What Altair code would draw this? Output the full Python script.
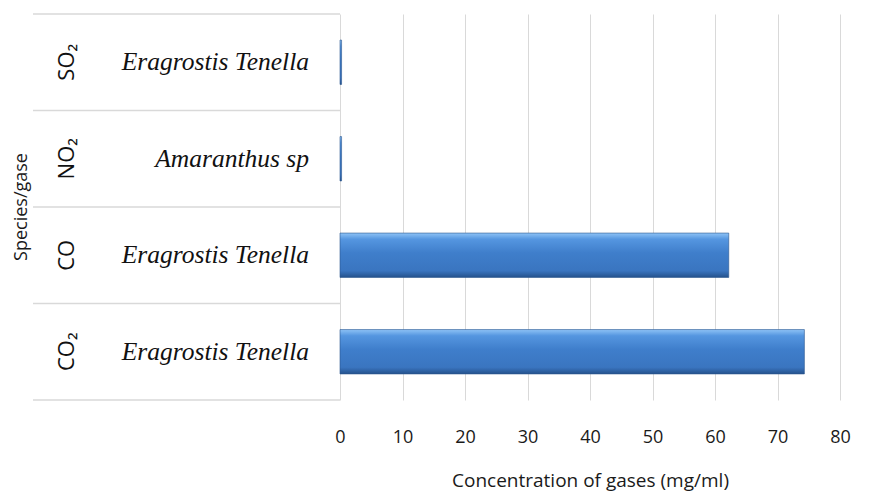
import altair as alt
import pandas as pd

# ---- data (top to bottom) ----
gases = ["SO₂", "NO₂", "CO", "CO₂"]
species = ["Eragrostis Tenella", "Amaranthus sp", "Eragrostis Tenella", "Eragrostis Tenella"]
values = [0.25, 0.25, 62.2, 74.3]
x_ticks = [0, 10, 20, 30, 40, 50, 60, 70, 80]
x_title = "Concentration of gases (mg/ml)"
y_title = "Species/gase"

df = pd.DataFrame({"gas": gases, "species": species, "value": values})
W, H = 500, 386
GRID = "#d9d9d9"

grad = alt.Gradient(
    gradient="linear", x1=0, y1=0, x2=0, y2=1,
    stops=[
        alt.GradientStop(color="#8ec3f6", offset=0.0),
        alt.GradientStop(color="#5596e0", offset=0.14),
        alt.GradientStop(color="#3f7ecb", offset=0.45),
        alt.GradientStop(color="#3a75c0", offset=0.85),
        alt.GradientStop(color="#25528c", offset=1.0),
    ],
)

x_enc = alt.X(
    "value:Q",
    scale=alt.Scale(domain=[0, 80], nice=False),
    axis=alt.Axis(
        values=x_ticks, grid=True, gridColor=GRID, gridWidth=1,
        domain=False, ticks=False, labelFlush=False,
        labelFont="Open Sans", labelFontSize=18, labelColor="#1a1a1a",
        labelPadding=28,
        title=x_title, titleFont="Open Sans", titleFontSize=19,
        titleFontWeight="normal", titleColor="#1a1a1a", titlePadding=25,
    ),
)

bars = alt.Chart(df).mark_bar(color=grad, stroke="#2a558f", strokeWidth=0.6).encode(
    x=x_enc,
    y=alt.Y("gas:N", sort=gases, axis=None,
            scale=alt.Scale(paddingInner=0.54, paddingOuter=0.27)),
)

ylab_scale = alt.Scale(type="band", paddingInner=0, paddingOuter=0)

seps = alt.Chart(df).mark_rule(color=GRID, strokeWidth=1.5).encode(
    x=alt.value(-307), x2=alt.value(0),
    y=alt.Y("gas:N", sort=gases, axis=None, scale=ylab_scale, bandPosition=0),
)
bottom_sep = alt.Chart(pd.DataFrame({"a": [0]})).mark_rule(color=GRID, strokeWidth=1.5).encode(
    x=alt.value(-307), x2=alt.value(0), y=alt.value(H),
)

gas_text = alt.Chart(df).mark_text(
    angle=270, align="center", baseline="middle",
    font="Open Sans", fontSize=22, color="#111111",
).encode(
    x=alt.value(-273),
    y=alt.Y("gas:N", sort=gases, axis=None, scale=ylab_scale, bandPosition=0.5),
    text="gas:N",
)

species_text = alt.Chart(df).mark_text(
    align="right", baseline="middle",
    font="Liberation Serif", fontStyle="italic", fontSize=25.5, color="#111111",
).encode(
    x=alt.value(-31),
    y=alt.Y("gas:N", sort=gases, axis=None, scale=ylab_scale, bandPosition=0.5),
    text="species:N",
)

ytitle = alt.Chart(pd.DataFrame({"t": [y_title]})).mark_text(
    angle=270, align="center", baseline="middle",
    font="Open Sans", fontSize=18, color="#1a1a1a",
).encode(x=alt.value(-318), y=alt.value(H / 2), text="t:N")

labels = alt.layer(seps, bottom_sep, gas_text, species_text, ytitle)

chart = alt.layer(bars, labels).resolve_scale(y="independent").properties(
    width=W, height=H,
    autosize=alt.AutoSizeParams(type="none"),
    padding={"left": 332, "top": 6, "right": 27, "bottom": 95},
).configure_view(stroke=None)

chart.save("out.html", embed_options={"renderer": "svg", "actions": False})
